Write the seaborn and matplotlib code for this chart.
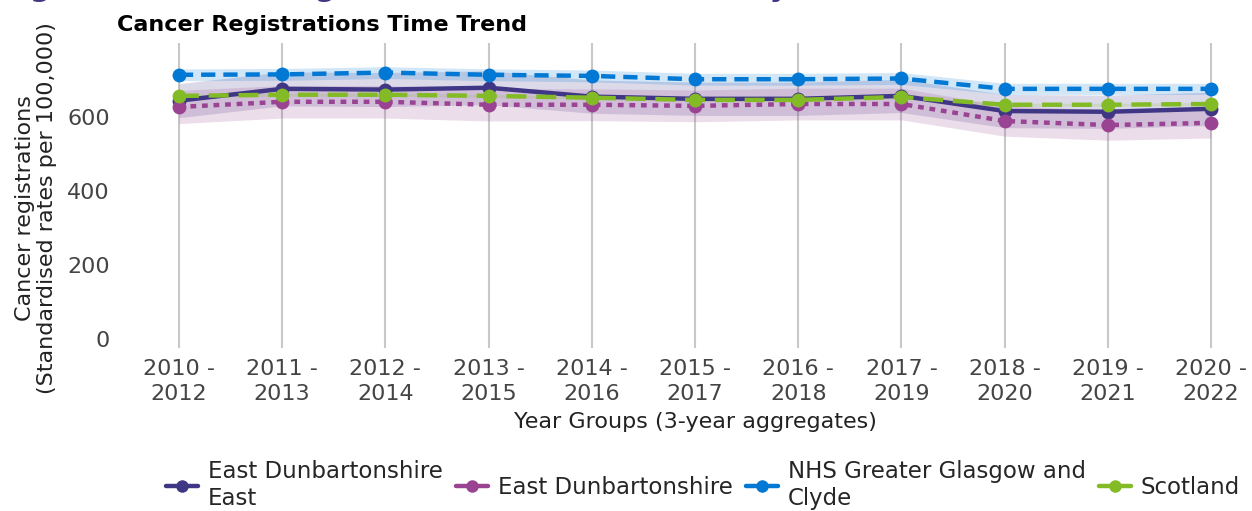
import numpy as np
import pandas as pd
import seaborn as sns
import matplotlib.pyplot as plt
from matplotlib.lines import Line2D

sns.set_theme(style="white")
plt.rcParams['font.family'] = ['DejaVu Sans']

yearGroups = ["2010 -\n2012", "2011 -\n2013", "2012 -\n2014", "2013 -\n2015",
              "2014 -\n2016", "2015 -\n2017", "2016 -\n2018", "2017 -\n2019",
              "2018 -\n2020", "2019 -\n2021", "2020 -\n2022"]

areas = ["East Dunbartonshire East", "East Dunbartonshire",
         "NHS Greater Glasgow and Clyde", "Scotland"]
legendLabels = ["East Dunbartonshire\nEast", "East Dunbartonshire",
                "NHS Greater Glasgow and\nClyde", "Scotland"]

edEast = [644, 676, 674, 679, 655, 649, 649, 657, 616, 614, 622]
edEastLow = [598, 630, 628, 633, 610, 604, 604, 612, 571, 569, 577]
edEastHigh = [690, 722, 720, 725, 700, 694, 694, 702, 661, 659, 667]

eastDunb = [627, 641, 641, 633, 633, 630, 635, 635, 589, 578, 584]
eastDunbLow = [582, 597, 597, 589, 590, 587, 592, 592, 548, 537, 543]
eastDunbHigh = [672, 685, 685, 677, 676, 673, 678, 678, 630, 619, 625]

nhsGgc = [714, 715, 720, 714, 711, 702, 702, 704, 676, 676, 676]
nhsGgcLow = [698, 699, 704, 698, 695, 686, 686, 688, 661, 661, 661]
nhsGgcHigh = [730, 731, 736, 730, 727, 718, 718, 720, 691, 691, 691]

scotland = [657, 660, 660, 657, 652, 646, 646, 654, 633, 633, 635]
scotlandLow = [653, 656, 656, 653, 648, 642, 642, 650, 629, 629, 631]
scotlandHigh = [661, 664, 664, 661, 656, 650, 650, 658, 637, 637, 639]

colours = {"East Dunbartonshire East": "#3F3685",
           "East Dunbartonshire": "#9B4393",
           "NHS Greater Glasgow and Clyde": "#0078D4",
           "Scotland": "#83BB26"}
dashes = {"East Dunbartonshire East": "",
          "East Dunbartonshire": (1.3, 1.3),
          "NHS Greater Glasgow and Clyde": (3.2, 1.8),
          "Scotland": (4.5, 2.2)}

values = [edEast, eastDunb, nhsGgc, scotland]
lows = [edEastLow, eastDunbLow, nhsGgcLow, scotlandLow]
highs = [edEastHigh, eastDunbHigh, nhsGgcHigh, scotlandHigh]

rows = []
for area, vals in zip(areas, values):
    for i, v in enumerate(vals):
        rows.append({"Area": area, "x": i, "Rate": v})
df = pd.DataFrame(rows)

fs = 16

fig = plt.figure(figsize=(12.52, 5.11), dpi=100)
# axes spans x 150..1240 px, y 43..348 px
ax = fig.add_axes([150 / 1252, 1 - 348 / 511, 1090 / 1252, 305 / 511])

xs = np.arange(len(yearGroups))
# confidence bands
for area, lo, hi in zip(areas, lows, highs):
    ax.fill_between(xs, lo, hi, color=colours[area], alpha=0.18, linewidth=0)

sns.lineplot(ax=ax, data=df, x="x", y="Rate", hue="Area", style="Area",
             hue_order=areas, style_order=areas, palette=colours,
             dashes=dashes, markers={a: "o" for a in areas},
             markersize=10, markeredgewidth=0, linewidth=3.2, legend=False)

ax.set_xticks(xs)
ax.set_xticklabels(yearGroups, fontsize=fs, color="#444444", linespacing=1.3)
ax.set_yticks([0, 200, 400, 600])
ax.tick_params(axis='y', labelsize=fs, labelcolor="#444444", pad=23)
ax.tick_params(axis='x', pad=2)
ax.set_xlim(-0.28, 10.28)
ax.set_ylim(-25, 800)
ax.grid(axis='x', color="#C8C8C8", linewidth=1.5)
ax.grid(axis='y', visible=False)
sns.despine(ax=ax, left=True, bottom=True)

ax.set_xlabel("Year Groups (3-year aggregates)", fontsize=fs, color="#222222", labelpad=6)
ax.set_ylabel("Cancer registrations\n(Standardised rates per 100,000)", fontsize=fs,
              color="#222222", linespacing=1.15)
ax.yaxis.set_label_coords(-93 / 1090, 0.46)

fig.text(117 / 1252, 1 - 25 / 511, "Cancer Registrations Time Trend", fontsize=fs,
         fontweight="bold", color="black", va="center", ha="left")
fig.text(0.0, 1 + 4 / 511, "Figure 5: Cancer registration rates over time by area",
         fontsize=21, fontweight="bold", color="#3F3685", va="baseline", ha="left")

handles = [Line2D([0], [0], color=colours[a], linestyle="-",
                  linewidth=3.2, marker="o", markersize=9, markeredgewidth=0)
           for a in areas]
fig.legend(handles, legendLabels, loc="lower center", ncol=4, frameon=False,
           fontsize=16.5, bbox_to_anchor=(0.5615, -0.038), handlelength=1.4,
           handletextpad=0.45, columnspacing=0.55, labelspacing=0.1)

fig.savefig("out.png", dpi=100)
